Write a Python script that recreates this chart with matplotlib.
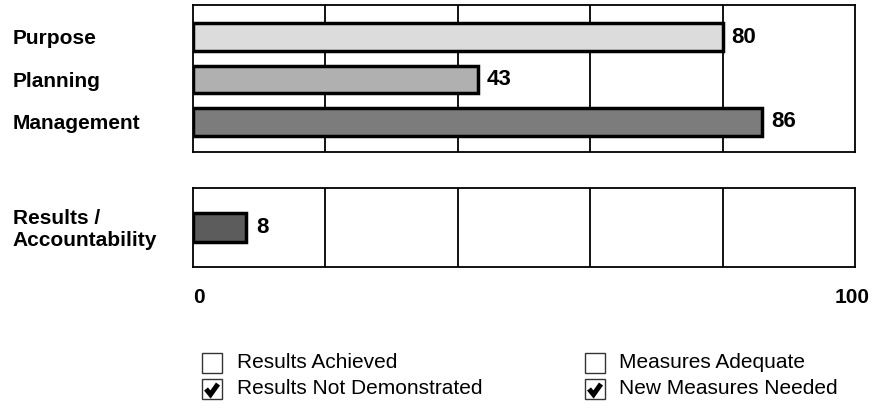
import matplotlib
matplotlib.use("Agg")
import matplotlib.pyplot as plt
import matplotlib.patches as mpatches
import matplotlib.transforms as mtransforms
from matplotlib.lines import Line2D

plt.rcParams["font.family"] = ["Liberation Sans", "DejaVu Sans"]

# ── data ─────────────────────────────────────────────────────────────────────
top_labels = ["Purpose", "Planning", "Management"]
top_scores = [80, 43, 86]
top_colors = ["#dcdcdc", "#b0b0b0", "#7c7c7c"]

bottom_label = "Results /\nAccountability"
bottom_score = 8
bottom_color = "#5c5c5c"

grid_ticks = [20, 40, 60, 80]
axis_labels = ["0", "100"]

legend_items = [
    ("Results Achieved", False),
    ("Results Not Demonstrated", True),
    ("Measures Adequate", False),
    ("New Measures Needed", True),
]

W, H = 876, 409
FS = 15
FS_VAL = 16


def fx(px):
    return px / W


def fy(py):
    return 1 - py / H


fig = plt.figure(figsize=(W / 100, H / 100), dpi=100)

left, right = 193, 855
ax_top = fig.add_axes([fx(left), fy(152), fx(right - left), (152 - 5) / H])
ax_bot = fig.add_axes([fx(left), fy(267), fx(right - left), (267 - 188) / H])

bar_h = 0.64
for ax in (ax_top, ax_bot):
    ax.set_xlim(0, 100)
    ax.set_xticks([])
    ax.set_yticks([])
    for s in ax.spines.values():
        s.set_linewidth(1.3)
        s.set_color("black")
    for g in grid_ticks:
        ax.axvline(g, color="black", linewidth=1.3, zorder=1)

# top panel
y = list(range(len(top_labels)))
ax_top.set_ylim(2.706, -0.753)
ax_top.barh(y, top_scores, height=bar_h, color=top_colors, edgecolor="black",
            linewidth=2.5, zorder=3)
trans_top = mtransforms.blended_transform_factory(ax_top.transAxes, ax_top.transData)
for yi, lab, val in zip(y, top_labels, top_scores):
    ax_top.text(-0.272, yi + 0.04, lab, transform=trans_top, ha="left", va="center",
                fontsize=FS, fontweight="bold")
    ax_top.text(val + 1.3, yi, str(val), ha="left", va="center",
                fontsize=FS_VAL, fontweight="bold")

# bottom panel
ax_bot.set_ylim(0.93, -0.93)
ax_bot.barh([0], [bottom_score], height=0.7, color=bottom_color, edgecolor="black",
            linewidth=2.5, zorder=3)
trans_bot = mtransforms.blended_transform_factory(ax_bot.transAxes, ax_bot.transData)
ax_bot.text(-0.272, 0.05, bottom_label, transform=trans_bot, ha="left", va="center",
            fontsize=FS, fontweight="bold", linespacing=1.15)
ax_bot.text(bottom_score + 1.5, 0, str(bottom_score), ha="left", va="center",
            fontsize=FS_VAL, fontweight="bold")

# 0 / 100 labels
ax_bot.text(0, -0.38, axis_labels[0], transform=ax_bot.transAxes, ha="left",
            va="center", fontsize=FS, fontweight="bold")
ax_bot.text(0.995, -0.38, axis_labels[1], transform=ax_bot.transAxes, ha="center",
            va="center", fontsize=FS, fontweight="bold")

# legend with checkboxes
box_x = [202, 202, 585, 585]
box_y = [353, 379, 353, 379]
text_x = [237, 237, 619, 619]
box = 20
for (lab, checked), bx, by, tx in zip(legend_items, box_x, box_y, text_x):
    fig.patches.append(mpatches.Rectangle((fx(bx), fy(by + box)), box / W, box / H,
                                          transform=fig.transFigure, fill=False,
                                          edgecolor="#333333", linewidth=1.0))
    if checked:
        xs = [bx + 4, bx + 8.5, bx + 16]
        ys = [by + 10, by + 15.5, by + 5]
        fig.lines.append(Line2D([fx(v) for v in xs], [fy(v) for v in ys],
                                transform=fig.transFigure, color="black",
                                linewidth=3.6, solid_capstyle="butt",
                                solid_joinstyle="miter"))
    fig.text(fx(tx), fy(by + box / 2), lab, ha="left", va="center", fontsize=FS)

fig.savefig("out.png", dpi=100)
